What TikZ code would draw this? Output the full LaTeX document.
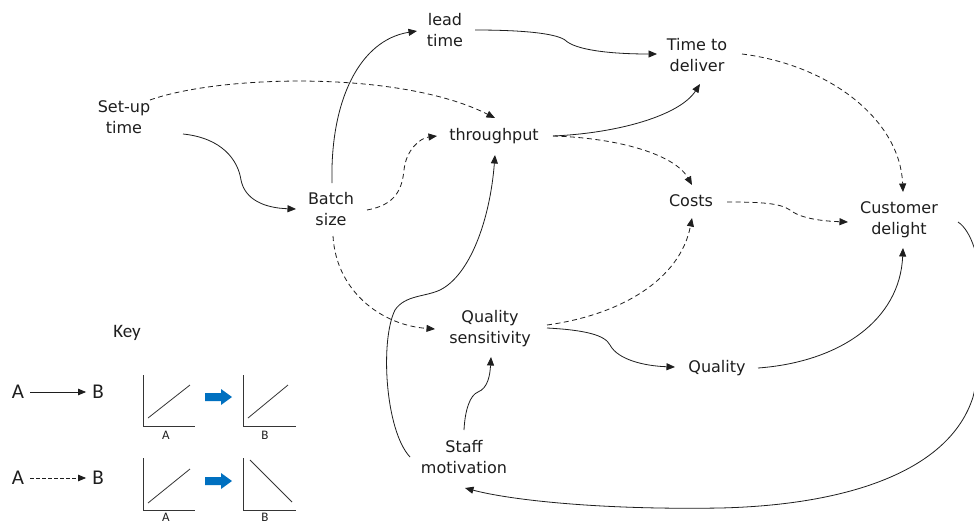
\documentclass[tikz,border=0pt]{standalone}
\usepackage{fontspec}
\setmainfont{DejaVu Sans}
\newfontfamily\keyfont{Carlito}
\usetikzlibrary{arrows.meta}
\definecolor{keyblue}{RGB}{0,112,192}
\definecolor{ink}{RGB}{30,30,30}
\begin{document}
\begin{tikzpicture}[x=1pt,y=-1pt,
  lbl/.style={align=center,font=\fontsize{16}{21}\selectfont,inner sep=0pt,text=ink},
  posarrow/.style={draw=ink,line width=0.8pt,-{Triangle[length=8.5pt,width=7pt]}},
  negarrow/.style={posarrow,dash pattern=on 5pt off 3.5pt},
  keyletter/.style={font=\keyfont\fontsize{21}{21}\selectfont,inner sep=0pt,text=ink},
  axislbl/.style={font=\keyfont\fontsize{13}{13}\selectfont,inner sep=0pt,text=ink},
  axisline/.style={draw=ink!90,line width=0.8pt},
  blockfill/.style={fill=keyblue,draw=none}
]
\useasboundingbox (0,0) rectangle (974,523);
\fill[white] (0,0) rectangle (974,523);

% nodes
\node[lbl] (su)  at (124,117) {Set-up\\time};
\node[lbl] (lt)  at (445,30)  {lead\\time};
\node[lbl] (ttd) at (697,55)  {Time to\\deliver};
\node[lbl] (tp)  at (494,136) {throughput};
\node[lbl] (bs)  at (331,209) {Batch\\size};
\node[lbl] (co)  at (691,201) {Costs};
\node[lbl] (cd)  at (899,220) {Customer\\delight};
\node[lbl] (qs)  at (490,329) {Quality\\sensitivity};
\node[lbl] (q)   at (717,368) {Quality};
\node[lbl] (sm)  at (464,457) {Staff\\motivation};

\begin{scope}
\clip (0,0) rectangle (974,523);
% Set-up time -> Batch size
\draw[posarrow] ([shift={(59,17)}]su.center) .. controls (222,138) and (238,160) .. (241,180)
  .. controls (245,200) and (265,208) .. ([shift={(-35,0)}]bs.center);
% Set-up time -> throughput
\draw[negarrow] ([shift={(26,-17)}]su.center) .. controls (220,75) and (400,70) .. ([shift={(1,-18)}]tp.center);
% Batch size -> lead time
\draw[posarrow] ([shift={(1,-26)}]bs.center) .. controls (330,100) and (360,40) .. ([shift={(-28,1)}]lt.center);
% Batch size -> throughput
\draw[negarrow] ([shift={(36,1)}]bs.center) .. controls (395,205) and (402,190) .. (404,170)
  .. controls (406,150) and (420,138) .. ([shift={(-57,0)}]tp.center);
% Batch size -> Quality sensitivity
\draw[negarrow] ([shift={(2,27)}]bs.center) .. controls (336,290) and (380,325) .. ([shift={(-55,0)}]qs.center);
% lead time -> Time to deliver
\draw[posarrow] ([shift={(30,0)}]lt.center) .. controls (520,30) and (555,33) .. (565,40)
  .. controls (575,50) and (610,54) .. ([shift={(-40,-1)}]ttd.center);
% throughput -> Time to deliver
\draw[posarrow] ([shift={(59,0)}]tp.center) .. controls (620,133) and (680,115) .. ([shift={(3,29)}]ttd.center);
% throughput -> Costs
\draw[negarrow] ([shift={(59,0)}]tp.center) .. controls (620,138) and (675,155) .. ([shift={(1,-16)}]co.center);
% Time to deliver -> Customer delight
\draw[negarrow] ([shift={(45,-1)}]ttd.center) .. controls (830,65) and (900,120) .. ([shift={(4,-28)}]cd.center);
% Costs -> Customer delight
\draw[negarrow] ([shift={(36,1)}]co.center) .. controls (760,202) and (780,203) .. (790,210)
  .. controls (800,218) and (820,221) .. ([shift={(-51,2)}]cd.center);
% Quality sensitivity -> Costs
\draw[negarrow] ([shift={(57,-4)}]qs.center) .. controls (620,315) and (680,280) .. ([shift={(1,17)}]co.center);
% Quality sensitivity -> Quality
\draw[posarrow] ([shift={(57,-1)}]qs.center) .. controls (585,330) and (605,335) .. (610,345)
  .. controls (618,360) and (645,366) .. ([shift={(-42,-1)}]q.center);
% Quality -> Customer delight
\draw[posarrow] ([shift={(41,0)}]q.center) .. controls (840,362) and (900,320) .. ([shift={(4,28)}]cd.center);
% Customer delight -> Staff motivation
\draw[posarrow] ([shift={(59,2)}]cd.center) .. controls (985,240) and (990,330) .. (973,397)
  .. controls (950,470) and (850,505) .. (720,508)
  .. controls (600,510) and (510,500) .. ([shift={(1,31)}]sm.center);
% Staff motivation -> Quality sensitivity
\draw[posarrow] ([shift={(0,-27)}]sm.center) .. controls (465,410) and (470,395) .. (478,392)
  .. controls (488,388) and (490,375) .. ([shift={(1,28)}]qs.center);
% Staff motivation -> throughput
\draw[posarrow] ([shift={(-54,0)}]sm.center) .. controls (385,430) and (380,340) .. (395,310)
  .. controls (405,295) and (425,297) .. (440,290)
  .. controls (470,275) and (490,220) .. ([shift={(1,19)}]tp.center);
\end{scope}

% Key
\node[font=\keyfont\fontsize{19}{19}\selectfont,inner sep=0pt,text=ink] (key) at (127,333) {Key};
\node[keyletter] (a1) at (18,392) {A};
\node[keyletter] (b1) at (98,392) {B};
\node[keyletter] (a2) at (18,478) {A};
\node[keyletter] (b2) at (98,478) {B};
\draw[draw=ink,line width=0.8pt,-{Triangle[length=8pt,width=6.5pt]},shorten <=6pt,shorten >=6pt] (a1) -- (b1);
\draw[draw=ink,line width=0.8pt,dash pattern=on 3.5pt off 2.5pt,-{Triangle[length=8pt,width=6.5pt]},shorten <=6pt,shorten >=6pt] (a2) -- (b2);

% graphs row 1
\draw[axisline] (143,375) -- (143,426) -- (195,426);
\draw[axisline] (148,418) -- (190,385);
\node[axislbl] (ga1) at (166,435) {A};
\fill[blockfill] (205,393) -- (221,393) -- (221,389) -- (232,397) -- (221,405) -- (221,401) -- (205,401) -- cycle;
\draw[axisline] (243,375) -- (243,426) -- (296,426);
\draw[axisline] (248,418) -- (288,385);
\node[axislbl] (gb1) at (265,435) {B};
% graphs row 2
\draw[axisline] (143,458) -- (143,510) -- (195,510);
\draw[axisline] (148,503) -- (190,469);
\node[axislbl] (ga2) at (166,517) {A};
\fill[blockfill] (205,477) -- (221,477) -- (221,473) -- (232,481) -- (221,489) -- (221,485) -- (205,485) -- cycle;
\draw[axisline] (243,458) -- (243,510) -- (296,510);
\draw[axisline] (250,460) -- (292,502);
\node[axislbl] (gb2) at (265,517) {B};
\end{tikzpicture}
\end{document}
